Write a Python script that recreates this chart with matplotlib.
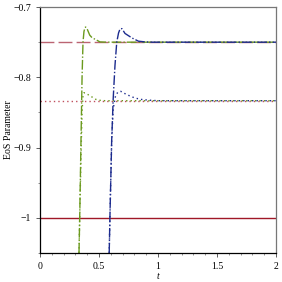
import matplotlib
matplotlib.use("Agg")
import matplotlib.pyplot as plt
from matplotlib.ticker import MultipleLocator, FixedLocator

plt.rcParams['font.family'] = ['Liberation Serif', 'DejaVu Serif']
plt.rcParams['axes.unicode_minus'] = True

# constant EoS levels (red)
w_solid = -1.0
w_dash = -0.75
w_dot = -5.0 / 6.0
t_const = [0.0, 2.0]

# green curves
t_g_dash = [0.330, 0.336, 0.346, 0.356, 0.364, 0.372, 0.380, 0.385, 0.392, 0.400,
            0.421, 0.440, 0.464, 0.490, 0.507, 0.550, 0.600, 2.0]
w_g_dash = [-1.05, -1.0, -0.90, -0.80, -0.75, -0.735, -0.7295, -0.7285, -0.729, -0.7315,
            -0.740, -0.7435, -0.7457, -0.748, -0.7496, -0.7499, -0.75, -0.75]
t_g_dot = [0.330, 0.336, 0.346, 0.356, 0.364, 0.373, 0.385, 0.407, 0.436, 0.473,
           0.510, 0.550, 2.0]
w_g_dot = [-1.05, -1.0, -0.92, -0.85, -0.826, -0.8219, -0.8225, -0.8247, -0.8276, -0.8314,
           -0.8328, -0.8333, -0.8333]

# blue curves
t_b_dash = [0.586, 0.592, 0.607, 0.620, 0.635, 0.650, 0.665, 0.677, 0.684, 0.695,
            0.720, 0.778, 0.834, 0.890, 0.950, 2.0]
w_b_dash = [-1.05, -1.0, -0.89, -0.83, -0.783, -0.75, -0.737, -0.7315, -0.7305, -0.731,
            -0.7376, -0.7439, -0.7486, -0.7496, -0.75, -0.75]
t_b_dot = [0.586, 0.592, 0.607, 0.620, 0.640, 0.660, 0.684, 0.720, 0.763, 0.806,
           0.860, 0.920, 1.0, 2.0]
w_b_dot = [-1.05, -1.0, -0.89, -0.845, -0.826, -0.821, -0.820, -0.8233, -0.8267, -0.8296,
           -0.8315, -0.8325, -0.8333, -0.8333]

xticks = [0, 0.5, 1, 1.5, 2]
xtick_labels = ['0', '0.5', '1', '1.5', '2']
yticks = [-1.0, -0.9, -0.8, -0.7]
ytick_labels = ['\u22121', '\u22120.9', '\u22120.8', '\u22120.7']

red_solid = '#a01828'
red_dash = '#bb6472'
red_dot = '#c0505e'
green = '#6b9a1e'
blue = '#1c2b8e'

fig = plt.figure(figsize=(2.82, 2.82), dpi=100)
ax = fig.add_axes([0.142, 0.103, 0.837, 0.872])

lw = 1.0
ax.plot(t_const, [w_solid] * 2, color=red_solid, lw=lw)
ax.plot(t_const, [w_dash] * 2, color=red_dash, lw=lw, dashes=(10, 3))
ax.plot(t_const, [w_dot] * 2, color=red_dot, lw=lw, dashes=(1, 2.2))

ax.plot(t_g_dash, w_g_dash, color=green, lw=lw, dashes=(7, 1.5, 1, 1.5))
ax.plot(t_g_dot, w_g_dot, color=green, lw=lw, dashes=(1, 2.2))
ax.plot(t_b_dash, w_b_dash, color=blue, lw=lw, dashes=(7, 1.5, 1, 1.5))
ax.plot(t_b_dot, w_b_dot, color=blue, lw=lw, dashes=(1, 2.2))

ax.set_xlim(0, 2)
ax.set_ylim(-1.05, -0.7)
ax.xaxis.set_major_locator(FixedLocator(xticks))
ax.set_xticklabels(xtick_labels)
ax.xaxis.set_minor_locator(MultipleLocator(0.1))
ax.yaxis.set_major_locator(FixedLocator(yticks))
ax.set_yticklabels(ytick_labels)
ax.yaxis.set_minor_locator(MultipleLocator(0.05))
ax.tick_params(which='major', length=3, width=0.6, labelsize=7, pad=3.5, color='#444444')
ax.tick_params(which='minor', length=1.5, width=0.5, color='#666666')

for side in ['left', 'bottom']:
    ax.spines[side].set_linewidth(0.9)
    ax.spines[side].set_color('black')
for side in ['top', 'right']:
    ax.spines[side].set_linewidth(0.9)
    ax.spines[side].set_color('#777777')

ax.set_xlabel('t', fontsize=7, style='italic', labelpad=1)
ax.set_ylabel('EoS Parameter', fontsize=7)
ax.yaxis.set_label_coords(-0.115, 0.5)

fig.savefig('out.png', dpi=100)
